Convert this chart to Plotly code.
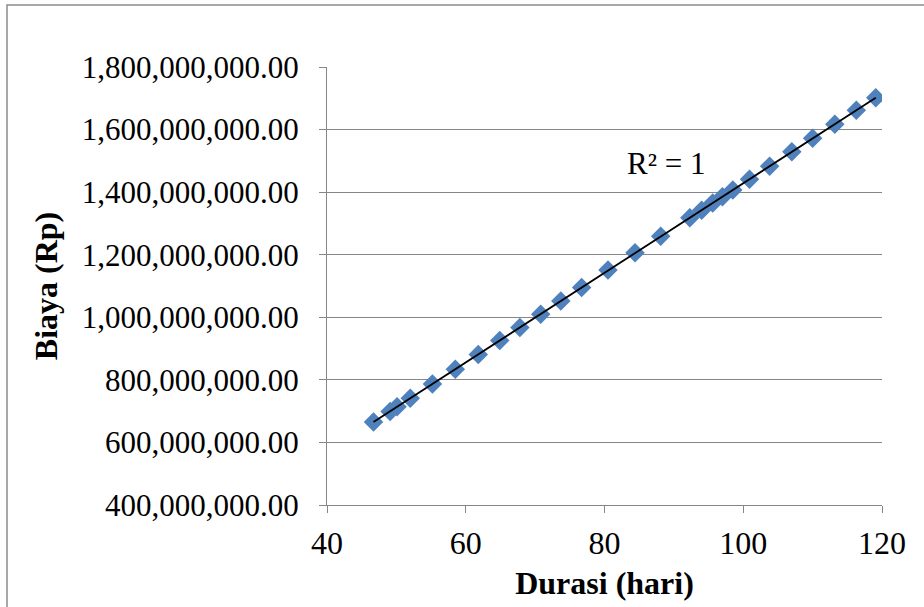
import numpy as np
import plotly.graph_objects as go

# Project duration (days) and corresponding cost (Rp)
durasi = [46.7, 49.1, 50.1, 52.0, 55.2, 58.5, 61.8, 64.9, 67.8, 70.8, 73.7, 76.7,
          80.5, 84.4, 88.1, 92.3, 94.0, 95.6, 97.0, 98.5, 100.9, 103.8, 107.0,
          110.0, 113.2, 116.3, 119.1]
biaya = [665e6, 699e6, 714e6, 741e6, 787e6, 834e6, 881e6, 926e6, 967e6, 1010e6,
         1052e6, 1095e6, 1151e6, 1206e6, 1259e6, 1318e6, 1342e6, 1365e6, 1385e6,
         1407e6, 1441e6, 1483e6, 1529e6, 1572e6, 1617e6, 1662e6, 1702e6]

x_ticks = [40, 60, 80, 100, 120]
y_ticks = [400e6, 600e6, 800e6, 1000e6, 1200e6, 1400e6, 1600e6, 1800e6]
r2_label = "R² = 1"

FONT = "Liberation Serif"
GRID = "#868686"

# Linear trendline over the data range
slope, intercept = np.polyfit(durasi, biaya, 1)
tx = np.array([min(durasi), max(durasi)])
ty = slope * tx + intercept

fig = go.Figure()
fig.add_trace(go.Scatter(
    x=durasi, y=biaya, mode="markers",
    marker=dict(symbol="diamond", size=15, color="#4F81BD", line=dict(width=0)),
    showlegend=False, hoverinfo="x+y",
))
fig.add_trace(go.Scatter(
    x=tx, y=ty, mode="lines", line=dict(color="black", width=1.8),
    showlegend=False, hoverinfo="skip",
))

W, H = 924, 607
ml, mr, mt, mb = 327, 42, 67, 102
pw, ph = W - ml - mr, H - mt - mb

fig.update_layout(
    width=W, height=H,
    margin=dict(l=ml, r=mr, t=mt, b=mb),
    paper_bgcolor="white", plot_bgcolor="white",
    font=dict(family=FONT, color="black"),
    xaxis=dict(
        range=[40, 120], tickvals=x_ticks, ticks="outside", ticklen=7,
        tickcolor=GRID, tickwidth=1.3, showline=True, linecolor=GRID, linewidth=1.3,
        showgrid=False, zeroline=False,
        tickfont=dict(family=FONT, size=32, color="black"),
        ticklabelstandoff=2,
        title=dict(text="<b>Durasi (hari)</b>", font=dict(family=FONT, size=32), standoff=12),
    ),
    yaxis=dict(
        range=[400e6, 1800e6], tickvals=y_ticks, tickformat=",.2f",
        ticks="outside", ticklen=7, tickcolor=GRID, tickwidth=1.3,
        showline=True, linecolor=GRID, linewidth=1.3,
        showgrid=True, gridcolor=GRID, gridwidth=1.3, zeroline=False,
        tickfont=dict(family=FONT, size=31, color="black"),
        ticklabelstandoff=14,
        title=dict(text="<b>Biaya (Rp)</b>", font=dict(family=FONT, size=32), standoff=14),
    ),
    annotations=[dict(
        text=r2_label, x=(666 - ml) / pw, y=(H - mb - 163) / ph,
        xref="paper", yref="paper", showarrow=False,
        font=dict(family=FONT, size=31, color="black"),
        xanchor="center", yanchor="middle",
    )],
    shapes=[dict(
        type="rect", xref="paper", yref="paper",
        x0=(7 - ml) / pw, x1=(W + 20 - ml) / pw,
        y0=(H - mb - (H + 20)) / ph, y1=(H - mb - 5) / ph,
        line=dict(color="#8C8C8C", width=1.5), fillcolor="rgba(0,0,0,0)", layer="below",
    )],
)

fig.write_html("out.html")
